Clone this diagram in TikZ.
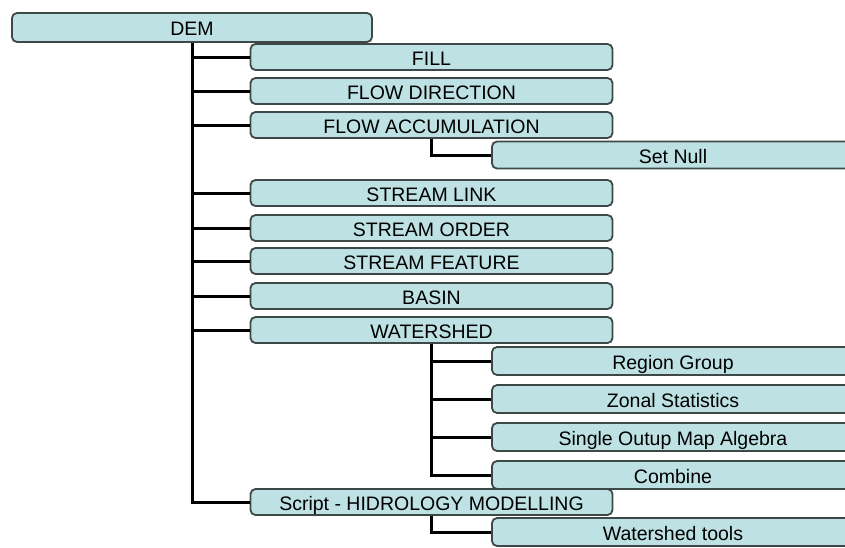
\documentclass[tikz,border=0pt]{standalone}
\usepackage{fontspec}
\setmainfont{Liberation Sans}
\definecolor{boxfill}{RGB}{190,225,227}
\definecolor{boxline}{RGB}{62,72,72}
\begin{document}
\begin{tikzpicture}[x=1pt,y=-1pt,
    box/.style={draw=boxline,fill=boxfill,line width=1.8pt,rounded corners=5pt,
      inner sep=0pt,minimum height=26pt,text height=16pt,text depth=0pt,
      font=\fontsize{19.5}{20}\selectfont},
    lvlone/.style={box,minimum width=362pt},
    lvltwo/.style={box,minimum width=362pt,minimum height=28pt},
    link/.style={line width=3pt,black}]
        \useasboundingbox (0,0) rectangle (845,547);
        \clip (0,0) rectangle (845,547);
        % boxes
        \node[box,minimum width=360pt,minimum height=29pt] at (192,27.5) (dem) {DEM};
        \node[lvlone] at (431.5,57)  (fill)    {FILL};
        \node[lvlone] at (431.5,91)  (flowdir) {FLOW DIRECTION};
        \node[lvlone] at (431.5,125) (flowacc) {FLOW ACCUMULATION};
        \node[lvltwo,minimum height=27pt] at (673,155) (setnull) {Set Null};
        \node[lvlone] at (431.5,193) (slink)   {STREAM LINK};
        \node[lvlone] at (431.5,228) (sorder)  {STREAM ORDER};
        \node[lvlone] at (431.5,261) (sfeat)   {STREAM FEATURE};
        \node[lvlone] at (431.5,296) (basin)   {BASIN};
        \node[lvlone] at (431.5,330) (wshed)   {WATERSHED};
        \node[lvltwo] at (673,361) (rgroup)  {Region Group};
        \node[lvltwo] at (673,399) (zstats)  {Zonal Statistics};
        \node[lvltwo] at (673,437) (mapalg)  {Single Outup Map Algebra};
        \node[lvltwo] at (673,475) (combine) {Combine};
        \node[lvlone] at (431.5,502) (script)  {Script - HIDROLOGY MODELLING};
        \node[lvltwo] at (673,532) (wstools) {Watershed tools};
        % tree lines
        \draw[link] (dem.south) |- (fill.west);
        \draw[link] (dem.south) |- (flowdir.west);
        \draw[link] (dem.south) |- (flowacc.west);
        \draw[link] (dem.south) |- (slink.west);
        \draw[link] (dem.south) |- (sorder.west);
        \draw[link] (dem.south) |- (sfeat.west);
        \draw[link] (dem.south) |- (basin.west);
        \draw[link] (dem.south) |- (wshed.west);
        \draw[link] (dem.south) |- (script.west);
        \draw[link] (flowacc.south) |- (setnull.west);
        \draw[link] (wshed.south) |- (rgroup.west);
        \draw[link] (wshed.south) |- (zstats.west);
        \draw[link] (wshed.south) |- (mapalg.west);
        \draw[link] (wshed.south) |- (combine.west);
        \draw[link] (script.south) |- (wstools.west);
      \end{tikzpicture}
\end{document}
